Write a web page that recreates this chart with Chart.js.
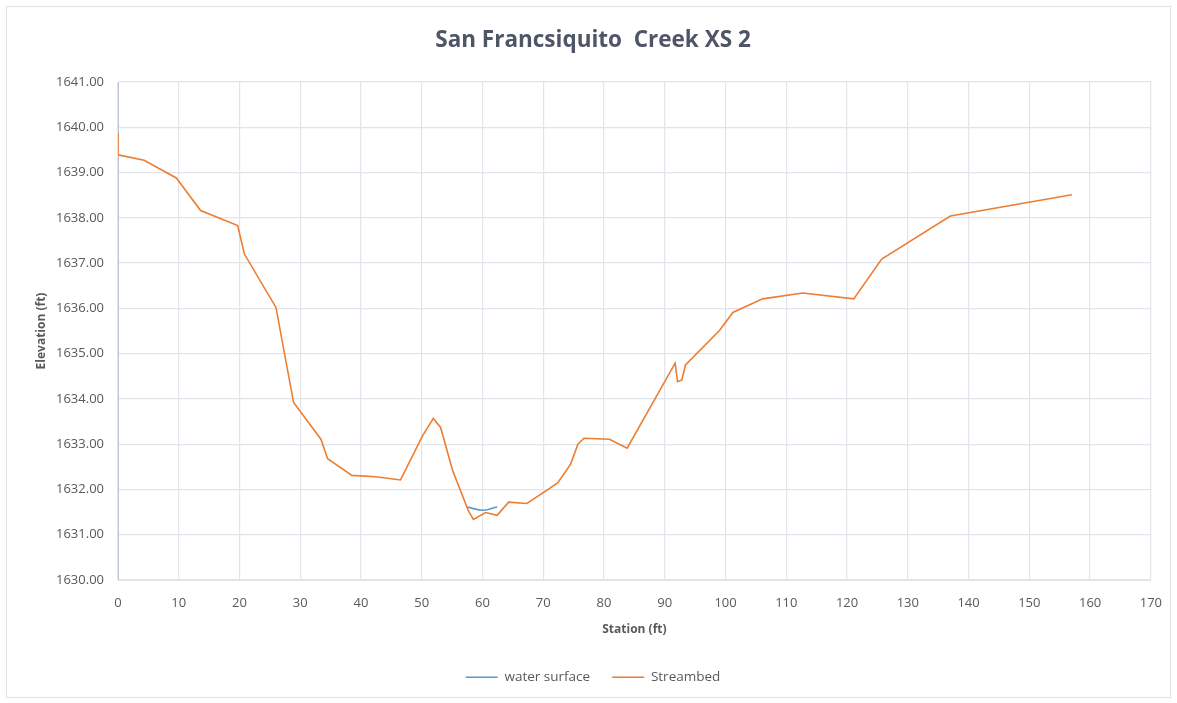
<!DOCTYPE html>
<html>
<head>
<meta charset="utf-8">
<script src="https://cdn.jsdelivr.net/npm/chart.js@4.4.0/dist/chart.umd.min.js"></script>
<style>
  html, body { margin: 0; padding: 0; background: #fff; }
  #frame { position: absolute; left: 6px; top: 6px; width: 1163px; height: 690px; border: 1px solid #e2e2e2; }
  #wrap { position: absolute; left: 0; top: 0; width: 1177px; height: 703px; }
</style>
</head>
<body>
<div id="frame"></div>
<div id="wrap"><canvas id="xsChart" width="1177" height="703"></canvas></div>
<script>
// ======================================
// DATA
// ======================================
const bedStations = [0, 0, 4.3, 9.6, 13.6, 19.7, 20.8, 26.0, 28.9, 33.4, 34.5, 38.5, 42.4, 46.5,
    50.1, 51.9, 53.1, 55.1, 57.7, 58.5, 60.5, 62.4, 64.3, 67.3, 70.8, 72.4, 74.5, 75.7, 76.7,
    80.9, 83.8, 91.7, 92.1, 92.8, 93.4, 99.0, 101.2, 106.1, 112.7, 121.1, 125.7, 137.0, 157.0];
const bedElevations = [1639.87, 1639.39, 1639.27, 1638.88, 1638.16, 1637.83, 1637.20, 1636.02,
    1633.92, 1633.11, 1632.68, 1632.31, 1632.28, 1632.21, 1633.18, 1633.57, 1633.37, 1632.41,
    1631.52, 1631.34, 1631.49, 1631.43, 1631.72, 1631.69, 1632.00, 1632.15, 1632.56, 1633.00,
    1633.13, 1633.11, 1632.91, 1634.79, 1634.38, 1634.42, 1634.75, 1635.51, 1635.91, 1636.21,
    1636.34, 1636.21, 1637.09, 1638.04, 1638.51];
const waterStations = [57.5, 60.2, 62.4];
const waterElevations = [1631.61, 1631.54, 1631.62];

const X_MIN = 0, X_MAX = 170, X_STEP = 10;
const Y_MIN = 1630, Y_MAX = 1641, Y_STEP = 1;

const COLORS = {
    water: '#5b9bd5',
    bed: '#ed7d31',
    grid: '#e1e4ea',
    text: '#595959',
    title: '#4d5566'
};

function toPoints(xs, ys) {
    return xs.map((x, i) => ({ x: x, y: ys[i] }));
}

const FONT = '"Open Sans", sans-serif';

document.addEventListener('DOMContentLoaded', function() {
    const ctx = document.getElementById('xsChart').getContext('2d');
    new Chart(ctx, {
        type: 'scatter',
        data: {
            datasets: [
                {
                    label: 'water surface',
                    data: toPoints(waterStations, waterElevations),
                    showLine: true,
                    borderColor: COLORS.water,
                    backgroundColor: COLORS.water,
                    borderWidth: 1.6,
                    pointRadius: 0,
                    tension: 0.4
                },
                {
                    label: 'Streambed',
                    data: toPoints(bedStations, bedElevations),
                    showLine: true,
                    borderColor: COLORS.bed,
                    backgroundColor: COLORS.bed,
                    borderWidth: 1.6,
                    pointRadius: 0
                }
            ]
        },
        options: {
            responsive: false,
            animation: false,
            layout: { padding: { top: 16, left: 30, right: 21, bottom: 9 } },
            scales: {
                x: {
                    type: 'linear',
                    min: X_MIN, max: X_MAX,
                    ticks: { stepSize: X_STEP, color: COLORS.text, font: { family: FONT, size: 13 }, padding: 15 },
                    grid: { color: COLORS.grid, lineWidth: 1.2, drawTicks: false },
                    border: { color: COLORS.grid },
                    title: { display: true, text: 'Station (ft)', color: COLORS.text,
                             font: { family: FONT, size: 12, weight: 'bold' }, padding: { top: -3, bottom: 11.5 } }
                },
                y: {
                    min: Y_MIN, max: Y_MAX,
                    afterFit: scale => { scale.width = 88; },
                    ticks: { stepSize: Y_STEP, color: COLORS.text, font: { family: FONT, size: 13 }, padding: 14,
                             callback: v => v.toFixed(2) },
                    grid: { color: COLORS.grid, lineWidth: 1.2, drawTicks: false },
                    border: { color: '#bcc6d6' },
                    title: { display: true, text: 'Elevation (ft)', color: COLORS.text,
                             font: { family: FONT, size: 12, weight: 'bold' }, padding: { bottom: 4 } }
                }
            },
            plugins: {
                title: {
                    display: true,
                    text: 'San Francsiquito  Creek XS 2',
                    color: COLORS.title,
                    font: { family: FONT, size: 22.5, weight: 'bold' },
                    padding: { top: 11, bottom: 28 }
                },
                legend: {
                    position: 'bottom',
                    labels: {
                        usePointStyle: true,
                        pointStyle: 'line',
                        pointStyleWidth: 32,
                        color: COLORS.text,
                        font: { family: FONT, size: 13.5 },
                        padding: 22
                    }
                },
                tooltip: { enabled: false }
            }
        }
    });
});
</script>
</body>
</html>
